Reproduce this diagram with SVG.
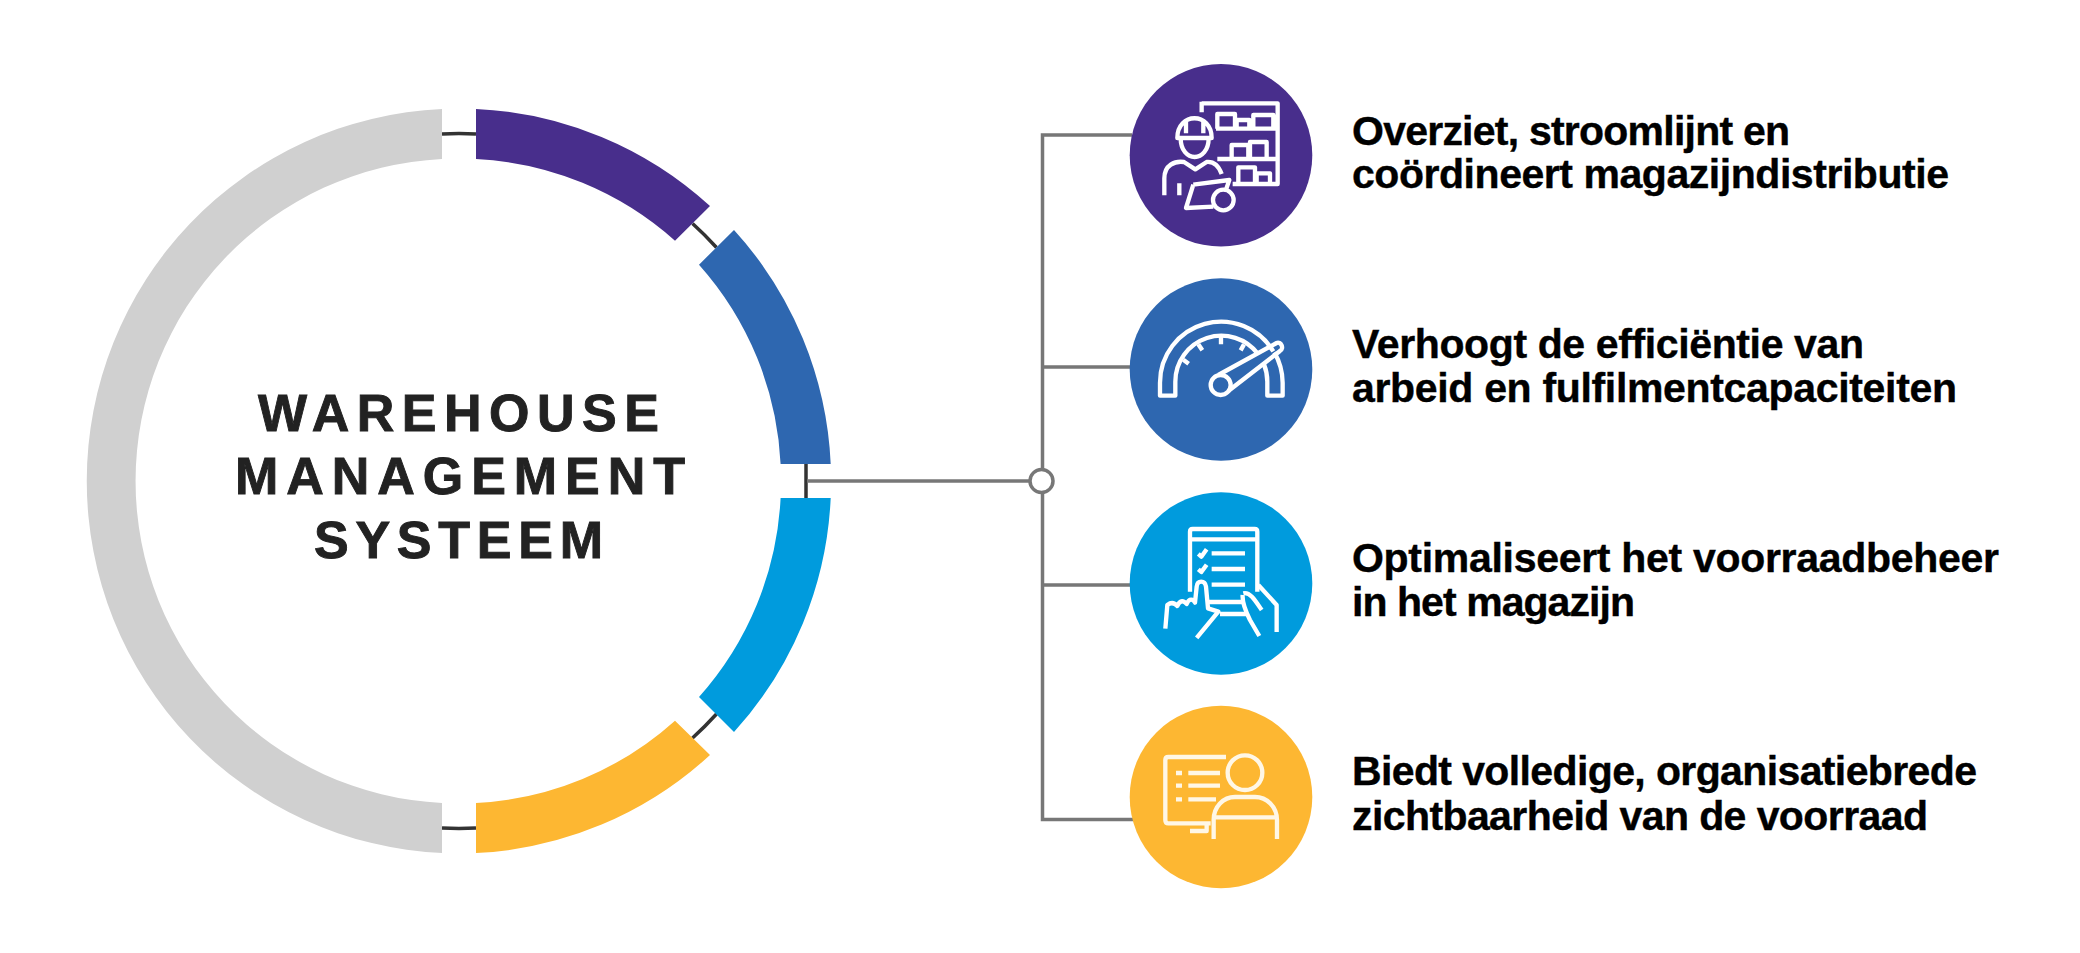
<svg xmlns="http://www.w3.org/2000/svg" width="2080" height="953" viewBox="0 0 2080 953">
<style>
.thin{fill:none;stroke:#333;stroke-width:3.5}
.conn{fill:none;stroke:#777;stroke-width:3.5}
.ic{fill:none;stroke:#fff;stroke-width:13;stroke-linejoin:round;stroke-linecap:butt}
.ict{fill:none;stroke:#fff7e6;stroke-width:13;stroke-linejoin:round}
.lbl{font-family:"Liberation Sans",Arial,sans-serif;font-weight:700;font-size:41px;fill:#000;stroke:#000;stroke-width:.4}
.title{font-family:"Liberation Sans",Arial,sans-serif;font-weight:700;font-size:52px;fill:#222;stroke:#222;stroke-width:.9}
</style>
<rect width="2080" height="953" fill="#fff"/>
<g id="ring">
<path class="thin" d="M442 133.900A347.500 347.500 0 0 1 476 133.900"/>
<path class="thin" d="M692.500 223.500A347.500 347.500 0 0 1 716.500 247.500"/>
<path class="thin" d="M806 464V498"/>
<path class="thin" d="M716.500 714A347.500 347.500 0 0 1 692.500 738"/>
<path class="thin" d="M476 828A347.500 347.500 0 0 1 442 828"/>
<path fill="#d0d0d0" d="M442 108.900A372.500 372.500 0 0 0 442 853.100V803.100A322.500 322.500 0 0 1 442 158.900Z"/>
<path fill="#482e8c" d="M476 108.900A372.500 372.500 0 0 1 710 206L675 240.700A322.500 322.500 0 0 0 476 159Z"/>
<path fill="#2e67b0" d="M734 230A372.500 372.500 0 0 1 830.700 464H780.600A322.500 322.500 0 0 0 699 264.700Z"/>
<path fill="#009bdd" d="M830.700 498A372.500 372.500 0 0 1 734 732L699 697A322.500 322.500 0 0 0 780.600 498Z"/>
<path fill="#fdb732" d="M710 755A372.500 372.500 0 0 1 476 853.100V803A322.500 322.500 0 0 0 675 720.700Z"/>
</g>
<g id="title">
<text class="title" x="258" y="431" textLength="401">WAREHOUSE</text>
<text class="title" x="235" y="494" textLength="450">MANAGEMENT</text>
<text class="title" x="314" y="558" textLength="289">SYSTEEM</text>
</g>
<g id="connectors">
<path class="conn" d="M807 481H1030"/>
<path class="conn" d="M1042.500 469V135H1132M1042.500 493V819.500H1134M1042.500 367H1132M1042.500 585H1132"/>
<circle class="conn" cx="1041.500" cy="481" r="11.500" fill="#fff"/>
</g>
<g id="node1">
<circle cx="1221" cy="155.300" r="91.300" fill="#482e8c"/>
<g class="ic" transform="translate(1110 50) scale(.3333)">
<path d="M275 155V187M275 160H503V402H368M318 236H503M322 327H503M322 236V192H375V236M380 236V210H418V236M430 236V195H490V236M365 327V285H415V327M420 327V276H470V327M385 402V352H435V402M440 402V370H480V402"/>
<path d="M202 264C202 185 305 185 305 264ZM228 250V212M280 250V212M212 264C212 340 296 340 296 264M163 436V385C163 345 195 332 222 336L256 358L290 336C310 334 325 345 335 372M208 400V436"/>
<path d="M250 404L358 390L346 425M250 404L228 474L310 470"/>
<circle cx="340" cy="450" r="31"/>
</g>
</g>
<g id="node2">
<circle cx="1221" cy="369.500" r="91.300" fill="#2e67b0"/>
<g class="ic" transform="translate(1110 265) scale(.3333)">
<path d="M493 262A184 184 0 0 1 518 353V392H472V350A138 138 0 0 0 462 298M445 268A138 138 0 0 0 196 350V392H150V353A183 183 0 0 1 490 259"/>
<path d="M220 284L236 296M265 238L277 256M333 216V238M402 238L392 256"/>
<path d="M325 330L500 234C512 228 524 250 510 258L355 378"/>
<circle cx="332" cy="360" r="30"/>
</g>
</g>
<g id="node3">
<circle cx="1221" cy="583.500" r="91.300" fill="#009bdd"/>
<g class="ic" transform="translate(1110 480) scale(.3333)">
<path d="M240 335V155Q240 147 248 147H434Q442 147 442 155V335M240 178H442M305 220H405M305 267H405M305 314H405M295 366H400M330 402H410"/>
<path d="M265 222L274 230L290 208M265 268L274 276L290 254"/>
<path d="M166 446L172 375C185 365 195 370 202 378C210 358 222 362 230 372C238 352 250 358 255 368L260 320C262 300 285 300 288 320L294 385L325 395L260 474M400 340C420 335 435 360 455 390M398 345C396 370 410 400 420 420L448 468M445 315L500 375V456"/>
</g>
</g>
<g id="node4">
<circle cx="1221" cy="797" r="91.300" fill="#fdb732"/>
<g class="ict" transform="translate(1110 695) scale(.3333)">
<path d="M348 186H175Q166 186 166 195V375Q166 385 175 385H302M240 408H290V385"/>
<path d="M198 234H216M235 234H330M198 272H216M235 272H330M198 313H216M235 313H318"/>
<circle cx="405" cy="233" r="52"/>
<path d="M311 432V375C311 335 340 306 375 306H435C470 306 501 335 501 375V432M311 367H501"/>
</g>
</g>
<g id="labels">
<text class="lbl" x="1352" y="145" textLength="438">Overziet, stroomlijnt en</text>
<text class="lbl" x="1352" y="188" textLength="597">coördineert magazijndistributie</text>
<text class="lbl" x="1352" y="358" textLength="512">Verhoogt de efficiëntie van</text>
<text class="lbl" x="1352" y="401.500" textLength="605">arbeid en fulfilmentcapaciteiten</text>
<text class="lbl" x="1352" y="571.500" textLength="647">Optimaliseert het voorraadbeheer</text>
<text class="lbl" x="1352" y="615.500" textLength="283">in het magazijn</text>
<text class="lbl" x="1352" y="785" textLength="625">Biedt volledige, organisatiebrede</text>
<text class="lbl" x="1352" y="829.500" textLength="576">zichtbaarheid van de voorraad</text>
</g>
</svg>
